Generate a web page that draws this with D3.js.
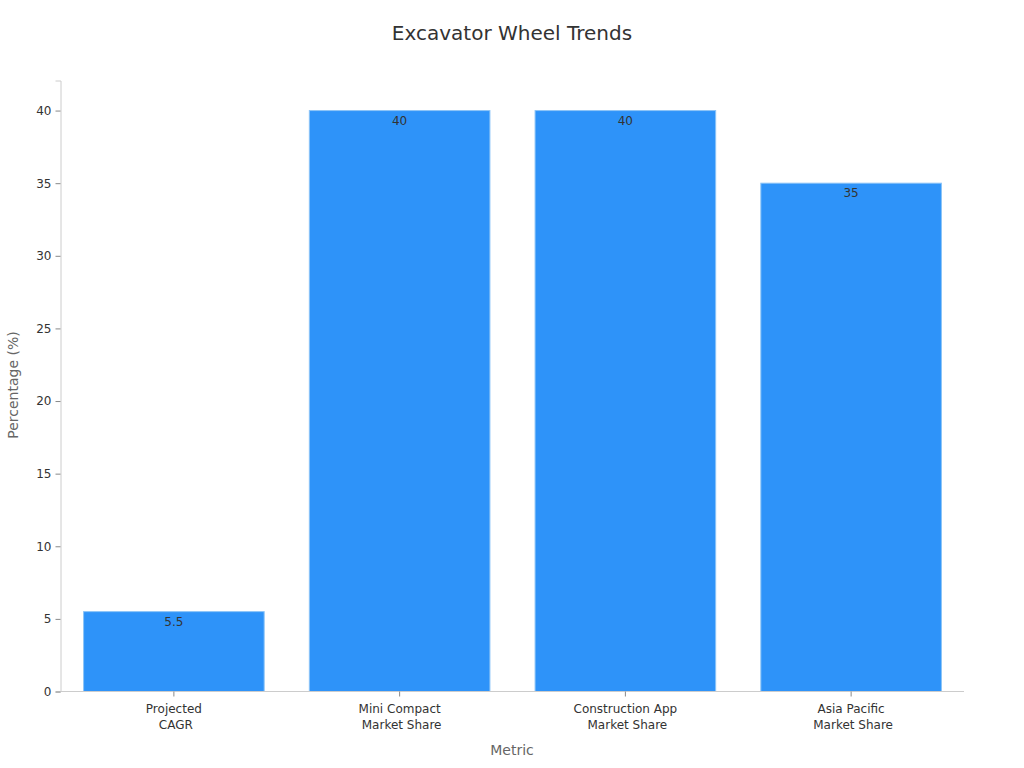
<!DOCTYPE html>
<html><head><meta charset="utf-8">
<script src="https://cdn.jsdelivr.net/npm/d3@7"></script>
<style>body{margin:0;background:#fff;font-family:"DejaVu Sans",sans-serif;}</style>
</head><body><svg id="c" width="1024" height="768"></svg>
<script>
const categories = [["Projected","CAGR"],["Mini Compact","Market Share"],["Construction App","Market Share"],["Asia Pacific","Market Share"]];
const values = [5.5, 40, 40, 35];
const yTicks = [0,5,10,15,20,25,30,35,40];

const svg = d3.select("#c");
const m = {l:61, r:964, t:80.5, b:691.5};
const x = d3.scaleBand().domain(d3.range(categories.length)).range([m.l, m.r]).paddingInner(0.2).paddingOuter(0.1);
const y = d3.scaleLinear().domain([0, 42.07]).range([m.b, m.t]);

svg.append("text").attr("x",512).attr("y",40).attr("text-anchor","middle")
  .attr("font-size",20).attr("fill","#333").text("Excavator Wheel Trends");

svg.selectAll("rect.bar").data(values).enter().append("rect")
  .attr("x",(d,i)=>x(i)).attr("width",x.bandwidth())
  .attr("y",d=>y(d)).attr("height",d=>y(0)-y(d))
  .attr("fill","#2e93f9").attr("stroke","#8cc4f7").attr("stroke-width",1);

svg.selectAll("text.val").data(values).enter().append("text")
  .attr("x",(d,i)=>x(i)+x.bandwidth()/2).attr("y",d=>y(d)+14)
  .attr("text-anchor","middle").attr("font-size",12).attr("fill","#333").text(d=>d);

const ya = svg.append("g").attr("transform",`translate(${m.l-0.5},0)`)
  .call(d3.axisLeft(y).tickValues(yTicks).tickSize(5).tickPadding(4));
ya.select(".domain").attr("stroke","#ccc");
ya.selectAll(".tick line").attr("stroke","#888");
ya.selectAll("text").attr("font-size",12).attr("fill","#333").attr("font-family","DejaVu Sans");

const xa = svg.append("g").attr("transform",`translate(0,${m.b})`)
  .call(d3.axisBottom(x).tickSize(5).tickFormat(""));
xa.select(".domain").attr("stroke","#ccc").attr("d",`M${m.l},0H${m.r}`);
xa.selectAll(".tick line").attr("stroke","#888");
categories.forEach((c,i)=>{
  c.forEach((s,j)=>svg.append("text").attr("x",x(i)+x.bandwidth()/2+(j?2:0)).attr("y",m.b+21+j*16)
    .attr("text-anchor","middle").attr("font-size",12).attr("fill","#333").text(s));
});

svg.append("text").attr("x",512).attr("y",755).attr("text-anchor","middle")
  .attr("font-size",14).attr("fill","#666").text("Metric");
svg.append("text").attr("transform","translate(18,385) rotate(-90)").attr("text-anchor","middle")
  .attr("font-size",14).attr("fill","#666").text("Percentage (%)");
</script></body></html>
